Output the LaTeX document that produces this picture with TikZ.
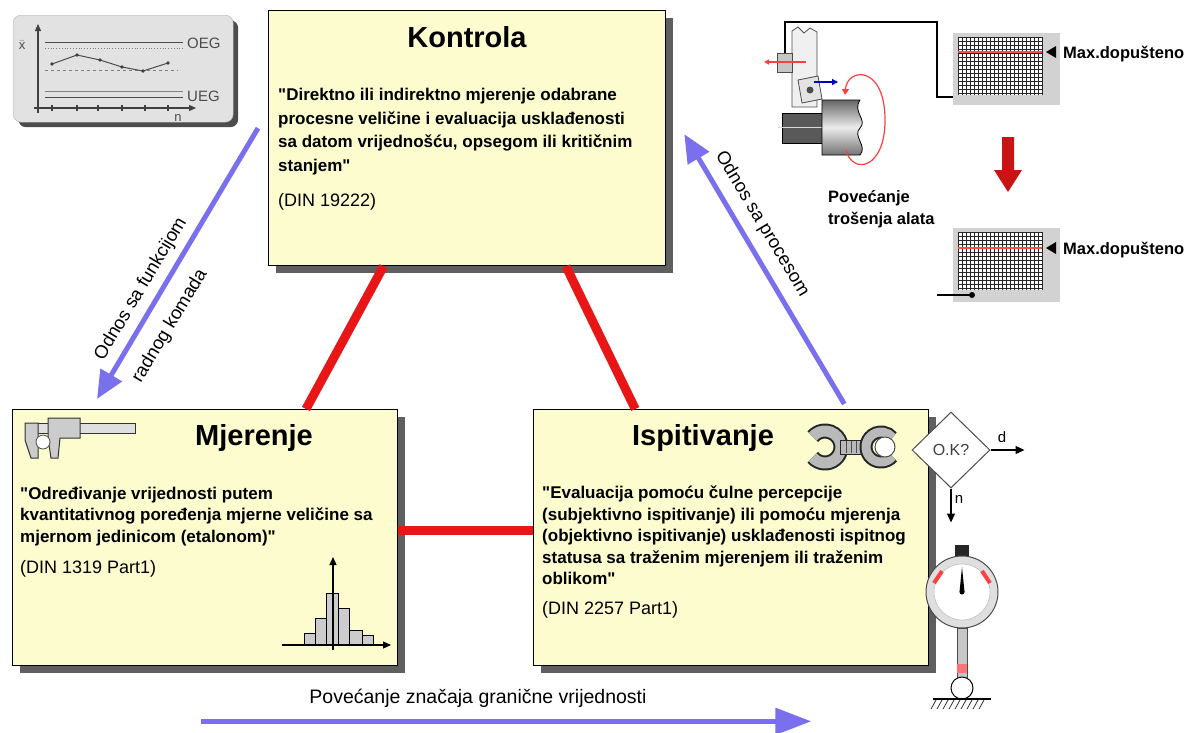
\documentclass[tikz,border=0pt]{standalone}
\usepackage{fontspec}
\setmainfont{Liberation Sans}[Ligatures=TeXOff]
\usetikzlibrary{arrows.meta,shapes.geometric,shadows,calc}
\definecolor{boxfill}{RGB}{252,252,206}
\definecolor{shadowgray}{RGB}{95,95,95}
\definecolor{redline}{RGB}{232,22,22}
\definecolor{bluearrow}{RGB}{122,112,238}
\definecolor{darkred}{RGB}{200,20,20}
\definecolor{chartgray}{RGB}{226,226,226}
\begin{document}
\begin{tikzpicture}[x=1pt,y=-1pt,
  mainbox/.style={draw=black, line width=1.3pt, fill=boxfill, anchor=north west, inner sep=0pt,
    drop shadow={shadow xshift=7pt,shadow yshift=-7pt,fill=shadowgray,opacity=1}},
  ttl/.style={font=\fontsize{29}{34}\selectfont\bfseries, inner sep=0pt, anchor=base},
  bodytxt/.style={font=\fontsize{17}{21.4}\selectfont\bfseries, align=left, inner sep=0pt, anchor=north west},
  dintxt/.style={font=\fontsize{18}{22}\selectfont, inner sep=0pt, anchor=base west},
  redl/.style={draw=redline, line width=9pt},
  bluel/.style={draw=bluearrow, line width=5pt, -{Triangle[length=28pt,width=24pt]}},
  lbl/.style={font=\fontsize{18.5}{22}\selectfont, inner sep=0pt},
  smalllbl/.style={font=\fontsize{15}{18}\selectfont, inner sep=0pt, text=black!70},
  maxlbl/.style={font=\fontsize{16.5}{20}\selectfont\bfseries, inner sep=0pt, anchor=base west},
  screen/.style={fill=gray!35, draw=none},
  thinarrow/.style={draw=black, line width=1.3pt, -{Triangle[length=9pt,width=8pt]}},
]
\useasboundingbox (0,0) rectangle (1200,732);
\fill[white] (0,0) rectangle (1200,732);

% ---------------- main boxes ----------------
\node[mainbox, minimum width=397pt, minimum height=255pt] (kon) at (268,10) {};
\node[mainbox, minimum width=385pt, minimum height=256pt] (mje) at (12,409) {};
\node[mainbox, minimum width=395pt, minimum height=256pt] (isp) at (533,409) {};

% red connecting lines
\draw[redl] ($(kon.south west)!0.29!(kon.south east)$) -- ($(mje.north west)!0.761!(mje.north east)$);
\draw[redl] ($(kon.south west)!0.748!(kon.south east)$) -- ($(isp.north west)!0.258!(isp.north east)$);
\draw[redl] ($(mje.east)+(0,-7)$) -- ($(isp.west)+(0,-7)$);

% titles
\node[ttl] (kont) at (467,47) {Kontrola};
\node[ttl] (mjet) at (254,445) {Mjerenje};
\node[ttl] (ispt) at (703,445) {Ispitivanje};

% body texts
\node[bodytxt, font=\fontsize{17}{23.5}\selectfont\bfseries] (kontxt) at (278,88)
 {"Direktno ili indirektno mjerenje odabrane\\procesne veličine i evaluacija usklađenosti\\sa datom vrijednošću, opsegom ili kritičnim\\stanjem"};
\node[dintxt] (kondin) at (278,206) {(DIN 19222)};

\node[bodytxt] (mjetxt) at (20,487)
 {"Određivanje vrijednosti putem\\kvantitativnog poređenja mjerne veličine sa\\mjernom jedinicom (etalonom)"};
\node[dintxt] (mjedin) at (20,573) {(DIN 1319 Part1)};

\node[bodytxt] (isptxt) at (542,486)
 {"Evaluacija pomoću čulne percepcije\\(subjektivno ispitivanje) ili pomoću mjerenja\\(objektivno ispitivanje) usklađenosti ispitnog\\statusa sa traženim mjerenjem ili traženim\\oblikom"};
\node[dintxt] (ispdin) at (542,614) {(DIN 2257 Part1)};

% ---------------- blue arrows ----------------
\draw[bluel] ($(kon.west)+(-10,-10)$) -- ($(mje.north west)+(85,-10)$);
\draw[bluel] ($(isp.north east)+(-85,-5)$) -- ($(kon.east)+(18,-4)$);
\coordinate (botl) at ($(mje.south east)+(-197,55)$);
\coordinate (botr) at ($(isp.south east)+(-118,55)$);
\draw[bluel, -{Triangle[length=36pt,width=26pt]}] (botl) -- (botr);

\node[lbl, rotate=59] (l1) at (141,289) {Odnos sa funkcijom};
\node[lbl, rotate=59] (l2) at (170,326) {radnog komada};
\node[lbl, rotate=-59] (l3) at (762,224) {Odnos sa procesom};
\node[lbl, font=\fontsize{19.5}{22}\selectfont] (l4) at (478,698) {Povećanje značaja granične vrijednosti};

% ---------------- control chart (top left) ----------------
\node[draw=gray!60, fill=chartgray, rounded corners=8pt, anchor=north west, minimum width=220pt, minimum height=107pt,
  drop shadow={shadow xshift=5pt,shadow yshift=-5pt,fill=black!70,opacity=1}] (chart) at (13,15) {};
\draw[black!75, line width=1.2pt, -{Triangle[length=7pt,width=6pt]}] (38,113) -- (38,24);
\draw[black!75, line width=1.2pt, -{Triangle[length=7pt,width=6pt]}] (34,108) -- (196,108);
\foreach \t in {52,77,98,122,145,168} \draw[black!75, line width=1.2pt] (\t,105) -- (\t,111);
\draw[black!70, line width=1pt] (45,42) -- (183,42);
\draw[black!50, line width=0.8pt, dotted] (45,48) -- (183,48);
\draw[black!50, line width=0.8pt, dashed] (45,70) -- (178,70);
\draw[black!70, line width=1pt] (52,64) -- (77,55) -- (100,60) -- (122,67) -- (143,71) -- (168,63);
\foreach \p in {(52,64),(77,55),(100,60),(122,67),(143,71),(168,63)} \fill[black!75] \p circle (1.8pt);
\draw[black!50, line width=0.8pt] (45,91) -- (183,91);
\draw[black!70, line width=1pt] (45,97) -- (183,97);
\node[smalllbl, anchor=west] (oeg) at (187,43) {OEG};
\node[smalllbl, anchor=west] (ueg) at (187,96) {UEG};
\node[smalllbl, font=\fontsize{13}{15}\selectfont] (nn) at (178,118) {n};
\node[smalllbl, font=\fontsize{13}{15}\selectfont] (xbar) at (22,45) {$\bar{\mathrm{x}}$};

% ---------------- tool wear illustration (top right) ----------------
\draw[black, line width=1.3pt] (785,55) -- (785,22) -- (937,22) -- (937,97) -- (972,97);
\fill (972,97) circle (3pt);
\filldraw[fill=gray!12, draw=gray!60!black, line width=0.8pt]
  (792,107) -- (792,31) -- (798,27) -- (804,33) -- (810,28) -- (817,32) -- (817,107) -- cycle;
\filldraw[fill=gray!45, draw=gray!60!black, line width=0.8pt] (777,53) rectangle (792,72);
\draw[red!75, line width=1.2pt, -{Triangle[length=5pt,width=5pt]}] (806,62) -- (764,62);
\filldraw[fill=gray!22, draw=gray!60!black, line width=0.8pt] (798,80) -- (818,76) -- (822,99) -- (802,103) -- cycle;
\fill[black!70] (810,90) circle (3.5pt);
\draw[blue!75!black, line width=1.3pt, -{Triangle[length=6pt,width=6pt]}] (814,82) -- (838,82);
\filldraw[fill=black!65, draw=black, line width=0.8pt] (782,113) rectangle (824,143);
\draw[gray!30, line width=0.8pt] (778,127) -- (824,127);
\shade[top color=black!60, bottom color=black!55, middle color=gray!15, draw=black, line width=0.8pt]
  (822,100) -- (860,100) .. controls (852,112) and (868,120) .. (860,128)
  .. controls (852,136) and (868,146) .. (860,155) -- (822,155) -- cycle;
\draw[red!75, line width=1.2pt, {Triangle[length=6pt,width=7pt]}-]
  (845,95) .. controls (847,68) and (884,64) .. (885,118) .. controls (886,170) and (852,175) .. (846,150);

% screens
\fill[screen] (953,33) rectangle (1060,105);
\fill[white] (958,37) rectangle (1042,95);
\foreach \i in {0,...,21} \draw[black!85, line width=0.7pt] (958+\i*4,37) -- (958+\i*4,95);
\foreach \j in {0,...,14} \draw[black!85, line width=0.7pt] (958,37+\j*4) -- (1042,37+\j*4);
\draw[red!70, line width=2pt] (958,52) -- (1042,52);
\fill (1056,46) -- (1056,58) -- (1046,52) -- cycle;
\node[maxlbl] (max1) at (1063,58) {Max.dopušteno};

\fill[darkred] (1002,137) -- (1014,137) -- (1014,170) -- (1022,170) -- (1008,192) -- (994,170) -- (1002,170) -- cycle;

\fill[screen] (953,228) rectangle (1060,302);
\fill[white] (958,232) rectangle (1042,290);
\foreach \i in {0,...,21} \draw[black!85, line width=0.7pt] (958+\i*4,232) -- (958+\i*4,290);
\foreach \j in {0,...,14} \draw[black!85, line width=0.7pt] (958,232+\j*4) -- (1042,232+\j*4);
\draw[red!70, line width=2pt] (958,248) -- (1042,248);
\fill (1056,242) -- (1056,254) -- (1046,248) -- cycle;
\node[maxlbl] (max2) at (1063,254) {Max.dopušteno};
\draw[black, line width=1.3pt] (937,295) -- (972,295);
\fill (972,295) circle (3pt);

\node[bodytxt, font=\fontsize{16.5}{22}\selectfont\bfseries] (wear) at (828,190) {Povećanje\\trošenja alata};

% ---------------- caliper icon ----------------
\filldraw[fill=gray!25, draw=black!80, line width=1pt] (25,423) rectangle (135,433);
\filldraw[fill=gray!40, draw=black!80, line width=1pt] (25,423) -- (38,423) -- (38,458) -- (31,458) -- (25,440) -- cycle;
\filldraw[fill=gray!40, draw=black!80, line width=1pt] (48,418) -- (80,418) -- (80,438) -- (60,438) -- (58,458) -- (51,458) -- (48,438) -- cycle;
\filldraw[fill=white, draw=black!70, line width=0.8pt] (43,442) circle (7pt);

% ---------------- histogram icon ----------------
\filldraw[fill=gray!40, draw=black, line width=0.9pt]
  (304,645) -- (304,633) -- (315,633) -- (315,618) -- (326,618) -- (326,593) -- (338,593) -- (338,608)
  -- (349,608) -- (349,630) -- (362,630) -- (362,635) -- (373,635) -- (373,645) -- cycle;
\draw[black, line width=0.9pt] (315,645) -- (315,633) (326,645) -- (326,618) (338,645) -- (338,608)
  (349,645) -- (349,630) (362,645) -- (362,635);
\draw[black, line width=1.2pt, -{Triangle[length=8pt,width=7pt]}] (282,645) -- (391,645);
\draw[black, line width=1.2pt, -{Triangle[length=8pt,width=7pt]}] (333,650) -- (333,557);

% ---------------- wrench icon ----------------
\draw[black!85, line width=15pt] (825,447) ++(140:16) arc[start angle=140, end angle=-140, radius=16];
\draw[gray!55, line width=11pt] (825,447) ++(140:16) arc[start angle=140, end angle=-140, radius=16];
\filldraw[fill=gray!55, draw=black!85, line width=1pt] (840,440) rectangle (866,454);
\foreach \s in {846,851,856,861} \draw[black!70, line width=0.8pt] (\s,441) -- (\s,453);
\draw[black!85, line width=13pt] (881,447) ++(40:15) arc[start angle=40, end angle=320, radius=15];
\draw[gray!55, line width=9pt] (881,447) ++(40:15) arc[start angle=40, end angle=320, radius=15];
\filldraw[fill=white, draw=black!70, line width=1pt] (885,447) circle (10pt);

% ---------------- decision & dial gauge ----------------
\node[diamond, draw=black!70, fill=white, line width=1pt, minimum width=78pt, minimum height=76pt, inner sep=0pt,
  font=\fontsize{16}{18}\selectfont, text=black!75] (ok) at (951,450) {O.K?};
\coordinate (okd) at ($(ok.east)+(34,0)$);
\coordinate (okn) at ($(ok.south)+(0,34)$);
\draw[thinarrow] (ok.east) -- (okd);
\draw[thinarrow] (ok.south) -- (okn);
\node[smalllbl, text=black, font=\fontsize{15}{18}\selectfont] (dl) at (1002,437) {d};
\node[smalllbl, text=black, font=\fontsize{15}{18}\selectfont] (nl) at (959,499) {n};

\fill[black!85] (955,545) rectangle (969,556);
\node[circle, draw=gray!60!black, fill=gray!25, line width=1pt, minimum size=72pt, inner sep=0pt] (gauge) at (962,592) {};
\node[circle, draw=gray!50, fill=white, line width=0.6pt, minimum size=56pt, inner sep=0pt] (face) at (962,592) {};
\draw[red!75, line width=4pt] (934,583) -- (942,571);
\draw[red!75, line width=4pt] (990,583) -- (982,571);
\fill[black] (959.5,592) -- (964.5,592) -- (962,567) -- cycle;
\fill[black] (962,592) circle (2.5pt);
\filldraw[fill=gray!45, draw=gray!60!black, line width=0.8pt] (957,628) rectangle (967,678);
\fill[red!55] (957,664) rectangle (967,673);
\node[circle, draw=black, fill=white, line width=1pt, minimum size=22pt, inner sep=0pt] (ball) at (962,688) {};
\draw[black, line width=1.5pt] (933,699) -- (991,699);
\foreach \h in {936,942,...,988} \draw[black!80, line width=0.8pt] (\h,700) -- (\h-5,709);
\end{tikzpicture}
\end{document}
